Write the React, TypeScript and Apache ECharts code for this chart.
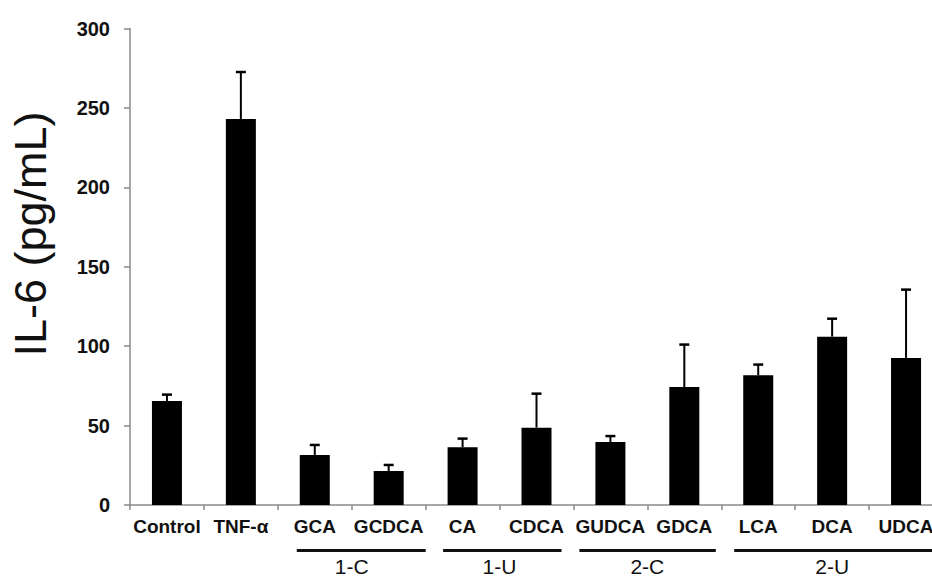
import React, { useEffect, useRef } from "react";
import * as echarts from "echarts";

const categories = ["Control", "TNF-α", "GCA", "GCDCA", "CA", "CDCA", "GUDCA", "GDCA", "LCA", "DCA", "UDCA"];
const means = [65.5, 243, 31.5, 21.4, 36.3, 48.7, 39.7, 74.3, 81.7, 106, 92.6];
const errors = [4, 29.6, 6.3, 3.8, 5.5, 21.4, 3.7, 26.7, 6.7, 11.3, 43];
const yTicks = { min: 0, max: 300, interval: 50 };
const groups = [
  { label: "1-C", members: ["GCA", "GCDCA"] },
  { label: "1-U", members: ["CA", "CDCA"] },
  { label: "2-C", members: ["GUDCA", "GDCA"] },
  { label: "2-U", members: ["LCA", "DCA", "UDCA"] },
];
const yTitle = "IL-6 (pg/mL)";

// layout (pixel padding of group lines around first/last member centres)
const groupPads = [
  [18, 37],
  [19.5, 25],
  [31, 31.5],
  [24, 40],
];

const FONT = '"Liberation Sans", Arial, sans-serif';

export default function App() {
  const ref = useRef<HTMLDivElement>(null);
  useEffect(() => {
    if (!ref.current) return;
    const chart = echarts.init(ref.current, undefined, { renderer: "svg" });
    const option: any = {
      animation: false,
      backgroundColor: "#fff",
      grid: { left: 130, top: 28.5, bottom: 73, right: -11, containLabel: false, outerBoundsMode: "none" },
      xAxis: {
        type: "category",
        data: categories,
        axisLine: { lineStyle: { color: "#8a8a8a", width: 1.5 } },
        axisTick: { show: true, length: 5, lineStyle: { color: "#8a8a8a", width: 1.5 } },
        axisLabel: {
          color: "#111",
          fontFamily: FONT,
          fontWeight: "bold",
          fontSize: 19,
          margin: 12,
          interval: 0,
        },
      },
      yAxis: {
        type: "value",
        min: yTicks.min,
        max: yTicks.max,
        interval: yTicks.interval,
        axisLine: { show: true, lineStyle: { color: "#8a8a8a", width: 1.5 } },
        axisTick: { show: true, length: 6, lineStyle: { color: "#8a8a8a", width: 1.5 } },
        splitLine: { show: false },
        axisLabel: { color: "#111", fontFamily: FONT, fontWeight: "bold", fontSize: 20, margin: 20 },
      },
      series: [
        {
          type: "bar",
          data: means,
          barWidth: 30,
          itemStyle: { color: "#000" },
        },
        {
          type: "custom",
          z: 5,
          data: means.map((m, i) => [i, m, errors[i]]),
          encode: { x: 0, y: 1 },
          renderItem: (params: any, api: any) => {
            const base = api.coord([api.value(0), api.value(1)]);
            const top = api.coord([api.value(0), api.value(1) + api.value(2)]);
            return {
              type: "group",
              children: [
                {
                  type: "line",
                  shape: { x1: base[0], y1: base[1], x2: base[0], y2: top[1] },
                  style: { stroke: "#000", lineWidth: 2 },
                },
                {
                  type: "line",
                  shape: { x1: base[0] - 5, y1: top[1], x2: base[0] + 5, y2: top[1] },
                  style: { stroke: "#000", lineWidth: 2.5 },
                },
              ],
            };
          },
        },
      ],
    };
    chart.setOption(option);

    const graphics: any[] = [
      {
        type: "text",
        x: 30,
        y: 234,
        rotation: Math.PI / 2,
        style: {
          text: yTitle,
          font: `45px ${FONT}`,
          fill: "#111",
          textAlign: "center",
          textVerticalAlign: "middle",
        },
      },
    ];
    groups.forEach((g, gi) => {
      const xs = g.members.map((m) => chart.convertToPixel({ xAxisIndex: 0 }, m) as number);
      const x1 = xs[0] - groupPads[gi][0];
      const x2 = xs[xs.length - 1] + groupPads[gi][1];
      const cx = g.members.length === 2 ? (xs[0] + xs[1]) / 2 : xs[1];
      graphics.push({
        type: "line",
        shape: { x1, y1: 550.5, x2, y2: 550.5 },
        style: { stroke: "#111", lineWidth: 3 },
      });
      graphics.push({
        type: "text",
        x: cx,
        y: 566,
        style: {
          text: g.label,
          font: `21px ${FONT}`,
          fill: "#111",
          textAlign: "center",
          textVerticalAlign: "middle",
        },
      });
    });
    chart.setOption({ graphic: graphics });
    return () => chart.dispose();
  }, []);
  return (
    <div
      ref={ref}
      style={{ position: "fixed", left: 0, top: 0, width: 932, height: 578, background: "#fff" }}
    />
  );
}
